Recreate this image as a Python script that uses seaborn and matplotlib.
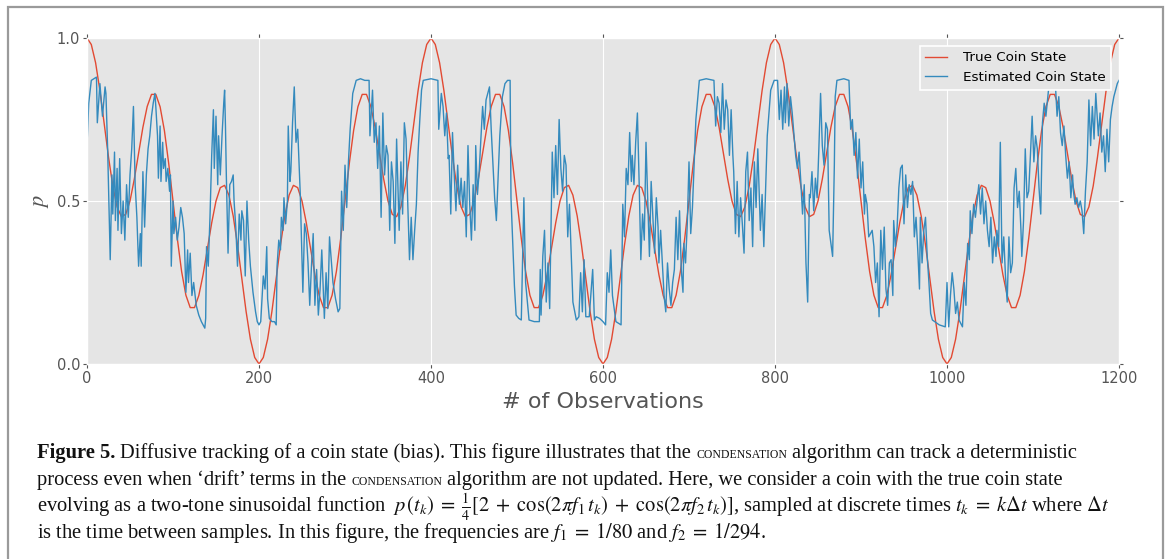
import numpy as np
import pandas as pd
import matplotlib
matplotlib.use('Agg')
import matplotlib.pyplot as plt
import seaborn as sns
from matplotlib.patches import Rectangle

# true coin state, read every 5 observations
true_obs = np.arange(0, 1201, 5)
true_p = [
    1.000, 0.980, 0.924, 0.839, 0.738, 0.635, 0.546, 0.482, 0.452, 0.459,
    0.500, 0.567, 0.647, 0.726, 0.790, 0.827, 0.827, 0.789, 0.716, 0.615,
    0.500, 0.385, 0.284, 0.211, 0.173, 0.173, 0.210, 0.274, 0.353, 0.433,
    0.500, 0.541, 0.548, 0.518, 0.454, 0.365, 0.262, 0.161, 0.076, 0.020,
    0.000, 0.020, 0.076, 0.161, 0.262, 0.365, 0.454, 0.518, 0.548, 0.541,
    0.500, 0.433, 0.353, 0.274, 0.210, 0.173, 0.173, 0.211, 0.284, 0.385,
    0.500, 0.615, 0.716, 0.789, 0.827, 0.827, 0.790, 0.726, 0.647, 0.567,
    0.500, 0.459, 0.452, 0.482, 0.546, 0.635, 0.738, 0.839, 0.924, 0.980,
    1.000, 0.980, 0.924, 0.839, 0.738, 0.635, 0.546, 0.482, 0.452, 0.459,
    0.500, 0.567, 0.647, 0.726, 0.790, 0.827, 0.827, 0.789, 0.716, 0.615,
    0.500, 0.385, 0.284, 0.211, 0.173, 0.173, 0.210, 0.274, 0.353, 0.433,
    0.500, 0.541, 0.548, 0.518, 0.454, 0.365, 0.262, 0.161, 0.076, 0.020,
    0.000, 0.020, 0.076, 0.161, 0.262, 0.365, 0.454, 0.518, 0.548, 0.541,
    0.500, 0.433, 0.353, 0.274, 0.210, 0.173, 0.173, 0.211, 0.284, 0.385,
    0.500, 0.615, 0.716, 0.789, 0.827, 0.827, 0.790, 0.726, 0.647, 0.567,
    0.500, 0.459, 0.452, 0.482, 0.546, 0.635, 0.738, 0.839, 0.924, 0.980,
    1.000, 0.980, 0.924, 0.839, 0.738, 0.635, 0.546, 0.482, 0.452, 0.459,
    0.500, 0.567, 0.647, 0.726, 0.790, 0.827, 0.827, 0.789, 0.716, 0.615,
    0.500, 0.385, 0.284, 0.211, 0.173, 0.173, 0.210, 0.274, 0.353, 0.433,
    0.500, 0.541, 0.548, 0.518, 0.454, 0.365, 0.262, 0.161, 0.076, 0.020,
    0.000, 0.020, 0.076, 0.161, 0.262, 0.365, 0.454, 0.518, 0.548, 0.541,
    0.500, 0.433, 0.353, 0.274, 0.210, 0.173, 0.173, 0.211, 0.284, 0.385,
    0.500, 0.615, 0.716, 0.789, 0.827, 0.827, 0.790, 0.726, 0.647, 0.567,
    0.500, 0.459, 0.452, 0.482, 0.546, 0.635, 0.738, 0.839, 0.924, 0.980,
    1.000,
]

# estimated coin state
est_obs = [
    0, 2, 5, 11, 12, 15, 18, 21, 22, 24, 27, 29, 30, 32, 33, 35, 36, 38, 40, 42,
    44, 46, 48, 50, 52, 54, 56, 58, 60, 62, 63, 65, 67, 69, 71, 73, 75, 77, 79, 80,
    82, 83, 85, 86, 88, 89, 91, 92, 94, 96, 97, 98, 100, 101, 103, 105, 107, 109, 111, 113,
    115, 117, 118, 120, 122, 124, 127, 130, 133, 135, 137, 138, 139, 141, 143, 145, 147, 148, 150, 152,
    153, 155, 157, 159, 160, 161, 162, 164, 166, 168, 170, 171, 173, 175, 177, 179, 180, 182, 184, 186,
    188, 190, 193, 196, 198, 200, 202, 205, 207, 209, 210, 212, 215, 218, 220, 221, 223, 225, 226, 228,
    229, 231, 233, 234, 236, 237, 239, 241, 243, 245, 248, 251, 253, 255, 257, 259, 261, 263, 265, 267,
    269, 271, 273, 276, 278, 280, 282, 284, 286, 289, 292,
    294, 296, 298, 300, 302, 304, 306, 309, 313, 318, 323, 328, 329, 332, 334, 336, 338, 340, 342, 344,
    346, 348, 350, 352, 354, 356, 358, 360, 362, 363, 365, 367, 369, 371, 373, 375, 377, 379, 381, 383,
    385, 387, 389, 391, 400, 408, 409, 412, 414, 416, 418, 420, 421, 423, 425, 427, 429, 431, 433, 435,
    437, 439, 441, 443, 445, 447, 449, 451, 452, 454, 456, 460, 462, 464, 468, 470, 474, 476, 480, 483,
    486, 489, 492, 493, 497, 499, 502, 505, 508, 510, 514, 520, 526, 527, 528, 530, 532, 534, 536, 538,
    541, 543, 545, 547, 549, 551, 553, 555, 557, 559, 561, 565, 569, 572, 574, 576, 578, 580, 584, 588,
    590, 592, 596,
    600, 603, 605, 607, 609, 611, 615, 621, 623, 625, 627, 629, 631, 633, 634, 636, 638, 640, 642, 644,
    646, 648, 650, 652, 654, 656, 658, 660, 662, 664, 665, 667, 669, 671, 673, 675, 677, 679, 681, 683,
    685, 687, 689, 691, 693, 694, 696, 698, 700, 702, 704, 708, 712, 720, 729, 731, 733, 735, 737, 739,
    741, 743, 745, 747, 749, 751, 752, 754, 756, 758, 760, 762, 764, 766, 768, 770, 772, 774, 776, 778,
    780, 782, 783, 785, 787, 791, 795, 799, 803, 805, 807, 809, 811, 812, 814, 816, 818, 820, 824, 826,
    828, 830, 832, 834, 836, 838, 840, 841, 843, 845, 847, 849, 851, 853, 855, 857, 859, 861, 863, 867,
    869, 870, 872, 880, 886, 888, 890, 892, 894, 896, 898, 900, 902, 904,
    905, 907, 909, 913, 915, 917, 919, 921, 923, 925, 927, 929, 931, 933, 935, 937, 938, 940, 942, 944,
    946, 948, 950, 952, 954, 956, 958, 960, 962, 964, 966, 968, 969, 971, 973, 975, 977, 979, 981, 983,
    991, 998, 1000, 1002, 1004, 1006, 1008, 1010, 1012, 1014, 1018, 1020, 1022, 1024, 1026, 1027, 1029, 1031, 1033, 1037,
    1039, 1041, 1043, 1045, 1047, 1049, 1051, 1053, 1055, 1057, 1058, 1060, 1062, 1064, 1066, 1068, 1070, 1072, 1074, 1076,
    1078, 1080, 1082, 1084, 1086, 1087, 1089, 1091, 1093, 1095, 1097, 1099, 1101, 1103, 1105, 1107, 1109, 1111, 1113, 1115,
    1118, 1122, 1126, 1128, 1130, 1132, 1134, 1136, 1138, 1140, 1142, 1144, 1146, 1147, 1149, 1151, 1153, 1155, 1157, 1159,
    1161, 1163, 1165, 1167, 1169, 1171, 1173, 1175, 1176, 1178, 1180, 1182, 1184, 1186, 1188, 1190, 1192, 1194, 1196, 1198,
    1200,
]
est_p = [
    0.67, 0.80, 0.87, 0.88, 0.74, 0.86, 0.76, 0.85, 0.83, 0.66, 0.32, 0.58, 0.46, 0.65, 0.44, 0.60, 0.41, 0.63, 0.40, 0.50,
    0.38, 0.55, 0.45, 0.58, 0.66, 0.79, 0.55, 0.45, 0.30, 0.40, 0.30, 0.59, 0.42, 0.58, 0.66, 0.70, 0.76, 0.80, 0.83, 0.79,
    0.70, 0.57, 0.73, 0.56, 0.68, 0.60, 0.63, 0.56, 0.60, 0.53, 0.58, 0.30, 0.50, 0.40, 0.45, 0.38, 0.42, 0.48, 0.45, 0.40,
    0.22, 0.35, 0.25, 0.34, 0.21, 0.25, 0.18, 0.15, 0.13, 0.12, 0.11, 0.14, 0.36, 0.30, 0.45, 0.64, 0.78, 0.60, 0.76, 0.55,
    0.70, 0.58, 0.70, 0.80, 0.84, 0.73, 0.58, 0.34, 0.55, 0.56, 0.58, 0.50, 0.42, 0.30, 0.46, 0.38, 0.47, 0.44, 0.27, 0.50,
    0.38, 0.30, 0.22, 0.16, 0.13, 0.12, 0.13, 0.27, 0.23, 0.36, 0.20, 0.14, 0.13, 0.13, 0.12, 0.30, 0.38, 0.35, 0.45, 0.41,
    0.51, 0.43, 0.50, 0.73, 0.56, 0.59, 0.74, 0.85, 0.68, 0.72, 0.52, 0.22, 0.43, 0.40, 0.31, 0.18, 0.30, 0.40, 0.18, 0.29,
    0.15, 0.23, 0.35, 0.14, 0.28, 0.17, 0.39, 0.32, 0.25, 0.20, 0.16,
    0.17, 0.53, 0.41, 0.61, 0.48, 0.62, 0.72, 0.83, 0.87, 0.875, 0.87, 0.87, 0.70, 0.84, 0.68, 0.74, 0.60, 0.73, 0.45, 0.77,
    0.58, 0.67, 0.64, 0.41, 0.62, 0.56, 0.37, 0.69, 0.51, 0.41, 0.62, 0.46, 0.74, 0.69, 0.49, 0.32, 0.45, 0.32, 0.41, 0.49,
    0.65, 0.75, 0.84, 0.87, 0.875, 0.87, 0.72, 0.83, 0.79, 0.70, 0.77, 0.63, 0.64, 0.46, 0.71, 0.58, 0.47, 0.61, 0.49, 0.57,
    0.48, 0.56, 0.39, 0.67, 0.49, 0.38, 0.55, 0.41, 0.67, 0.52, 0.59, 0.79, 0.72, 0.81, 0.85, 0.72, 0.51, 0.44, 0.70, 0.82,
    0.86, 0.87, 0.87, 0.51, 0.24, 0.15, 0.14, 0.135, 0.51, 0.25, 0.135, 0.13, 0.13, 0.29, 0.15, 0.33, 0.41, 0.19, 0.31, 0.17,
    0.65, 0.51, 0.67, 0.52, 0.75, 0.60, 0.53, 0.64, 0.61, 0.39, 0.49, 0.19, 0.135, 0.145, 0.28, 0.16, 0.32, 0.145, 0.145, 0.29,
    0.135, 0.145, 0.14,
    0.13, 0.12, 0.28, 0.22, 0.35, 0.21, 0.13, 0.12, 0.49, 0.39, 0.60, 0.55, 0.71, 0.56, 0.64, 0.55, 0.68, 0.77, 0.56, 0.32,
    0.46, 0.38, 0.68, 0.51, 0.33, 0.56, 0.45, 0.34, 0.51, 0.42, 0.31, 0.41, 0.31, 0.21, 0.16, 0.31, 0.23, 0.18, 0.25, 0.29,
    0.45, 0.32, 0.47, 0.29, 0.22, 0.37, 0.31, 0.43, 0.62, 0.40, 0.48, 0.75, 0.87, 0.875, 0.87, 0.73, 0.82, 0.80, 0.71, 0.86,
    0.72, 0.81, 0.78, 0.64, 0.78, 0.64, 0.59, 0.40, 0.56, 0.39, 0.51, 0.43, 0.34, 0.59, 0.65, 0.44, 0.54, 0.36, 0.62, 0.48,
    0.66, 0.49, 0.41, 0.52, 0.36, 0.70, 0.84, 0.87, 0.87, 0.75, 0.84, 0.72, 0.85, 0.74, 0.86, 0.73, 0.82, 0.77, 0.64, 0.60,
    0.65, 0.56, 0.46, 0.55, 0.31, 0.19, 0.52, 0.51, 0.59, 0.47, 0.57, 0.51, 0.66, 0.83, 0.67, 0.61, 0.74, 0.72, 0.41, 0.33,
    0.61, 0.82, 0.87, 0.875, 0.87, 0.72, 0.75, 0.64, 0.71, 0.57, 0.69, 0.54, 0.62, 0.46,
    0.52, 0.49, 0.39, 0.41, 0.36, 0.25, 0.31, 0.145, 0.41, 0.29, 0.42, 0.23, 0.18, 0.31, 0.32, 0.21, 0.44, 0.36, 0.42, 0.54,
    0.60, 0.61, 0.43, 0.58, 0.48, 0.55, 0.52, 0.56, 0.39, 0.45, 0.35, 0.23, 0.45, 0.31, 0.41, 0.45, 0.33, 0.25, 0.155, 0.135,
    0.12, 0.114, 0.25, 0.114, 0.21, 0.28, 0.23, 0.155, 0.19, 0.135, 0.114, 0.25, 0.18, 0.37, 0.32, 0.47, 0.40, 0.49, 0.45, 0.55,
    0.46, 0.54, 0.43, 0.50, 0.41, 0.36, 0.45, 0.31, 0.39, 0.33, 0.41, 0.36, 0.68, 0.31, 0.39, 0.27, 0.19, 0.39, 0.28, 0.31,
    0.54, 0.60, 0.48, 0.53, 0.41, 0.33, 0.44, 0.66, 0.51, 0.53, 0.64, 0.76, 0.62, 0.70, 0.66, 0.54, 0.46, 0.74, 0.80, 0.76,
    0.84, 0.87, 0.86, 0.76, 0.82, 0.71, 0.67, 0.73, 0.64, 0.57, 0.62, 0.51, 0.58, 0.53, 0.49, 0.51, 0.48, 0.50, 0.47, 0.40,
    0.53, 0.62, 0.81, 0.67, 0.79, 0.69, 0.83, 0.74, 0.70, 0.77, 0.65, 0.70, 0.59, 0.72, 0.62, 0.75, 0.79, 0.82, 0.84, 0.86,
    0.87,
]

x_ticks = [0, 200, 400, 600, 800, 1000, 1200]
y_ticks = [0.0, 0.5, 1.0]
y_tick_labels = ['0.0', '0.5', '1.0']

W, H = 1168, 559

plt.style.use('ggplot')
plt.rcParams['font.family'] = ['DejaVu Sans']
plt.rcParams['mathtext.fontset'] = 'stix'

fig = plt.figure(figsize=(W / 100, H / 100), dpi=100)
ax = fig.add_axes([87 / W, 1 - 364 / H, (1119 - 87) / W, (364 - 38) / H])

true_df = pd.DataFrame({'obs': true_obs, 'p': true_p})
est_df = pd.DataFrame({'obs': est_obs, 'p': est_p})

sns.lineplot(data=true_df, x='obs', y='p', ax=ax, color='#E24A33', lw=1.0,
             label='True Coin State', errorbar=None)
sns.lineplot(data=est_df, x='obs', y='p', ax=ax, color='#348ABD', lw=1.0,
             label='Estimated Coin State', errorbar=None)

ax.set_xlim(0, 1200)
ax.set_ylim(0, 1)
ax.set_xticks(x_ticks)
ax.set_yticks(y_ticks)
ax.set_yticklabels(y_tick_labels)
ax.tick_params(axis='both', which='both', top=True, right=True, length=3,
               labelsize=10.5, colors='#555555', pad=2)
ax.set_xlabel('# of Observations', fontsize=16, color='#555555', labelpad=4)
ax.set_ylabel('$p$', fontsize=16, color='#555555', labelpad=4)

leg = ax.legend(loc='upper right', fontsize=9.7, facecolor='#E5E5E5',
                edgecolor='white', framealpha=1, fancybox=False,
                handlelength=1.6, handletextpad=1.2, borderaxespad=0.6)
leg.get_frame().set_linewidth(1.2)

# outer frame round figure + caption
fig.add_artist(Rectangle((8 / W, -0.02), (1163 - 8) / W, 1.02 - 7 / H,
                         transform=fig.transFigure, fill=False,
                         edgecolor='#9a9a9a', lw=1.6))

# caption, built piece by piece (small caps faked with a smaller font)
renderer = fig.canvas.get_renderer()
serif = ['Liberation Serif', 'DejaVu Serif']
cap_size = 14.8
reg = dict(family=serif, fontsize=cap_size, color='#111111')
bold = dict(family=serif, fontsize=cap_size, color='#111111', fontweight='bold')
sc = dict(family=serif, fontsize=cap_size * 0.57, color='#111111')


def text_w(s, kw):
    t = fig.text(0, 0, s, **kw)
    w = t.get_window_extent(renderer).width
    t.remove()
    return w


space = text_w('a a', reg) - text_w('aa', reg)


def caption_line(y_px, pieces):
    x = 37
    for i, (s, kw) in enumerate(pieces):
        if i > 0:
            x += space
        t = fig.text(x / W, 1 - y_px / H, s, ha='left', va='baseline', **kw)
        x += t.get_window_extent(renderer).width


caption_line(458, [
    ('Figure 5.', bold),
    ('Diffusive tracking of a coin state (bias). This figure illustrates that the', reg),
    ('CONDENSATION', sc),
    ('algorithm can track a deterministic', reg),
])
caption_line(485, [
    ('process even when \u2018drift\u2019 terms in the', reg),
    ('CONDENSATION', sc),
    ('algorithm are not updated. Here, we consider a coin with the true coin state', reg),
])
caption_line(512, [
    (r'evolving as a two-tone sinusoidal function $\;p\,(t_k)\;=\;\frac{1}{4}[2\;+\;'
     r'\cos(2\pi f_1\, t_k)\;+\;\cos(2\pi f_2\, t_k)]$, sampled at discrete times '
     r'$t_k\;=\;k\Delta t$ where $\Delta t$', reg),
])
caption_line(538, [
    (r'is the time between samples. In this figure, the frequencies are '
     r'$f_1\;=\;1/80$ and $f_2\;=\;1/294$.', reg),
])

fig.savefig('out.png', dpi=100)
